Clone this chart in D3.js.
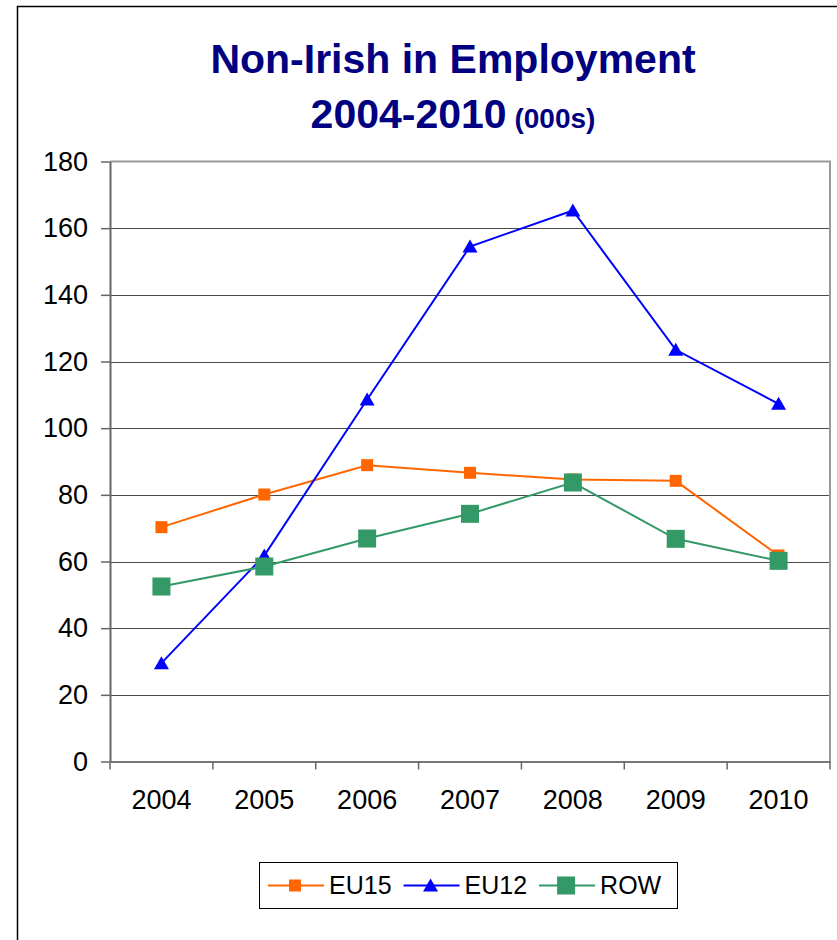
<!DOCTYPE html>
<html>
<head>
<meta charset="utf-8">
<script src="https://cdn.jsdelivr.net/npm/d3@7/dist/d3.min.js"></script>
<style>
  html, body { margin: 0; padding: 0; background: #fff; }
  svg { display: block; font-family: "Liberation Sans", Arial, Helvetica, sans-serif; }
</style>
</head>
<body>
<svg id="chart" width="837" height="940"></svg>
<script>
// Non-Irish persons in employment, thousands
const years = ["2004", "2005", "2006", "2007", "2008", "2009", "2010"];
const eu15  = [70.3, 80.1, 88.9, 86.6, 84.6, 84.2, 61.8];
const eu12  = [29.5, 61.8, 108.6, 154.5, 165.3, 123.5, 107.3];
const row   = [52.5, 58.5, 66.9, 74.3, 83.7, 66.8, 60.2];
const yTicks = [0, 20, 40, 60, 80, 100, 120, 140, 160, 180];

const seriesNames  = ["EU15", "EU12", "ROW"];
const seriesValues = [eu15, eu12, row];
const seriesColors = ["#FF6600", "#0000FF", "#339966"];
const seriesMarker = ["smallSquare", "triangle", "bigSquare"];

const svg = d3.select("#chart");

// outer chart frame
svg.append("rect")
  .attr("x", 17.5).attr("y", 6.5)
  .attr("width", 900).attr("height", 1000)
  .attr("fill", "#fff").attr("stroke", "#000").attr("stroke-width", 1.5);

// title
const title = svg.append("text")
  .attr("x", 453).attr("text-anchor", "middle")
  .attr("fill", "#000080").attr("font-weight", "bold");
title.append("tspan").attr("x", 453).attr("y", 73)
  .attr("font-size", 41).text("Non-Irish in Employment");
const l2 = title.append("tspan").attr("x", 453).attr("y", 128).attr("font-size", 41);
l2.append("tspan").text("2004-2010");
l2.append("tspan").attr("font-size", 28).text(" (000s)");

const plot = { left: 110, right: 830, top: 161.5, bottom: 761.5 };

const x = d3.scaleBand().domain(years).range([plot.left, plot.right]).padding(0);
const xEdge = d3.scaleLinear().domain([0, years.length]).range([plot.left, plot.right]);
const y = d3.scaleLinear().domain([0, 180]).range([plot.bottom, plot.top]);
const cx = d => x(d) + x.bandwidth() / 2;

// horizontal gridlines
svg.append("g").selectAll("line")
  .data(yTicks.filter(t => t > 0 && t < 180))
  .join("line")
  .attr("x1", plot.left).attr("x2", plot.right)
  .attr("y1", d => Math.round(y(d)) + 0.5).attr("y2", d => Math.round(y(d)) + 0.5)
  .attr("stroke", "#4a4a4a").attr("stroke-width", 1.2);

// plot area border (top and right)
svg.append("path")
  .attr("d", `M${plot.left},${plot.top}H${plot.right}V${plot.bottom}`)
  .attr("fill", "none").attr("stroke", "#999").attr("stroke-width", 2);

// y axis
const yAxis = svg.append("g")
  .attr("transform", `translate(${plot.left},0)`)
  .call(d3.axisLeft(y).tickValues(yTicks).tickSize(9).tickPadding(13).tickSizeOuter(0));
yAxis.select(".domain").attr("stroke", "#666").attr("stroke-width", 2);
yAxis.selectAll(".tick line").attr("stroke", "#666").attr("stroke-width", 1.5);
yAxis.selectAll(".tick text")
  .attr("font-size", 27).attr("fill", "#000")
  .attr("font-family", "Liberation Sans, Arial, sans-serif");

// x axis: labels centred in categories, ticks at category boundaries
const xAxis = svg.append("g")
  .attr("transform", `translate(0,${plot.bottom})`)
  .call(d3.axisBottom(x).tickSize(0).tickPadding(28).tickSizeOuter(0));
xAxis.select(".domain").attr("stroke", "#777").attr("stroke-width", 2);
xAxis.selectAll(".tick text")
  .attr("font-size", 27).attr("fill", "#000")
  .attr("font-family", "Liberation Sans, Arial, sans-serif");
svg.append("g").selectAll("line")
  .data(d3.range(years.length + 1))
  .join("line")
  .attr("x1", d => xEdge(d)).attr("x2", d => xEdge(d))
  .attr("y1", plot.bottom).attr("y2", plot.bottom + 8)
  .attr("stroke", "#666").attr("stroke-width", 1.5);

// marker drawing
function drawMarker(g, kind, color) {
  if (kind === "smallSquare") {
    g.append("rect").attr("x", -6).attr("y", -6).attr("width", 12).attr("height", 12)
      .attr("fill", color);
  } else if (kind === "bigSquare") {
    g.append("rect").attr("x", -9).attr("y", -9).attr("width", 18).attr("height", 18)
      .attr("fill", color);
  } else {
    g.append("path").attr("d", "M0,-7L7.5,6L-7.5,6Z").attr("fill", color);
  }
}

const line = d3.line().x((d, i) => cx(years[i])).y(d => y(d));

seriesValues.forEach((vals, s) => {
  const g = svg.append("g");
  g.append("path").datum(vals)
    .attr("d", line)
    .attr("fill", "none").attr("stroke", seriesColors[s]).attr("stroke-width", 2);
  vals.forEach((v, i) => {
    const m = g.append("g").attr("transform", `translate(${cx(years[i])},${y(v)})`);
    drawMarker(m, seriesMarker[s], seriesColors[s]);
  });
});

// legend
const legend = svg.append("g");
legend.append("rect")
  .attr("x", 259.5).attr("y", 862.5).attr("width", 418).attr("height", 46)
  .attr("fill", "#fff").attr("stroke", "#000").attr("stroke-width", 1);
let lx = 268;
const ly = 885.5;
seriesNames.forEach((name, s) => {
  const item = legend.append("g");
  item.append("line")
    .attr("x1", lx).attr("x2", lx + 56).attr("y1", ly).attr("y2", ly)
    .attr("stroke", seriesColors[s]).attr("stroke-width", 2);
  const m = item.append("g").attr("transform", `translate(${lx + 27},${ly})`);
  drawMarker(m, seriesMarker[s], seriesColors[s]);
  const t = item.append("text")
    .attr("x", lx + 61).attr("y", ly + 8.5)
    .attr("font-size", 25).attr("fill", "#000").text(name);
  lx += 61 + t.node().getComputedTextLength() + 12;
});
</script>
</body>
</html>
